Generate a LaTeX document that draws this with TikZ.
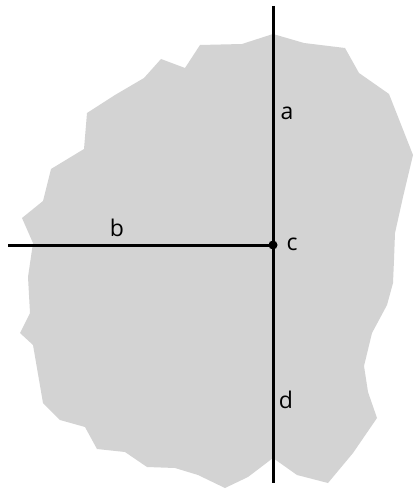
\documentclass[tikz,border=0pt]{standalone}
\usepackage{fontspec}
\setmainfont{Open Sans}
\definecolor{rockgray}{RGB}{211,211,211}
\tikzset{
  axisline/.style={line width=3pt},
  lbl/.style={font=\fontsize{23}{28}\selectfont, inner sep=0pt}
}
\begin{document}
\begin{tikzpicture}[x=1pt, y=-1pt]
            \useasboundingbox (0,0) rectangle (413,489);
            \fill[rockgray] (273,34) -- (304,43) -- (345,48) -- (359,73) -- (389,94) -- (413,155) -- (403,197) -- (395,233) -- (394,260) -- (393,283) -- (387,305) -- (372,333) -- (364,366) -- (368,392) -- (377,418) -- (353,453) -- (328,483) -- (297,475) -- (273,458) -- (248,477) -- (225,488) -- (198,475) -- (175,468) -- (147,467) -- (125,452) -- (97,449) -- (85,427) -- (60,420) -- (43,403) -- (33,345) -- (20,333) -- (30,313) -- (28,277) -- (33,243) -- (22,218) -- (43,201) -- (51,169) -- (84,149) -- (87,113) -- (115,95) -- (144,78) -- (161,59) -- (185,68) -- (200,45) -- (242,44) -- cycle;
            \coordinate (top) at (273,6);
            \coordinate (bottom) at (273,483);
            \coordinate (left) at (8,245);
            \node[circle, fill=black, inner sep=0pt, minimum size=9pt] (ctr) at (273,245) {};
            \draw[axisline] (top) -- (bottom);
            \draw[axisline] (left) -- (ctr.center);
            \node[lbl] (la) at (287,113) {a};
            \node[lbl] (lb) at (117,228) {b};
            \node[lbl] (lc) at (292,244) {c};
            \node[lbl] (ld) at (286,400) {d};
        \end{tikzpicture}
\end{document}
